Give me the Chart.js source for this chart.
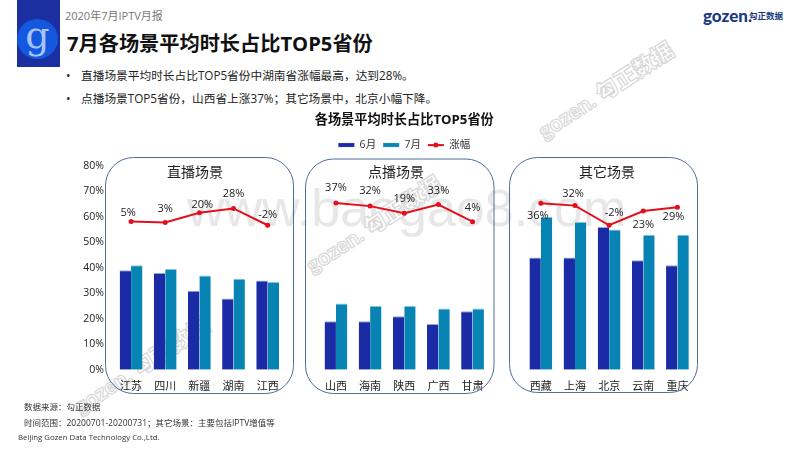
<!DOCTYPE html>
<html>
<head>
<meta charset="utf-8">
<script src="https://cdn.jsdelivr.net/npm/chart.js@4"></script>
<style>
  html, body { margin: 0; padding: 0; background: #fff; }
  body { width: 800px; height: 450px; position: relative; overflow: hidden;
         font-family: "Open Sans", "Noto Sans CJK SC", sans-serif; color: #222; }
  .t { position: absolute; white-space: nowrap; line-height: 1; }
  .wm { position: absolute; white-space: nowrap; line-height: 1; font-family: Lato, "Noto Sans CJK SC", sans-serif;
        font-weight: 900; font-size: 22px; color: #fff; -webkit-text-stroke: 1.2px #d8d8d8;
        transform: rotate(-33deg); transform-origin: left center; }
  #site { position: absolute; white-space: nowrap; line-height: 1; left: 187px; top: 178px;
          font: 52px "Liberation Sans", sans-serif; color: #e7e7e7; }
  #logo { position: absolute; left: 17px; top: 0; width: 43px; height: 67px; background: #1b2fa0; overflow: hidden; }
  #logo div { position: absolute; left: 0; top: 19px; width: 41px; height: 40px; border-radius: 50%; background: #1558e0;
              color: #a8c4ff; font: 38px/32px "DejaVu Serif", serif; text-align: center; }
  canvas { position: absolute; left: 0; top: 0; }
</style>
</head>
<body>
<div id="logo"><div>g</div></div>
<div class="t" style="left:65px;top:10px;font-size:11px;color:#777">2020年7月IPTV月报</div>
<div class="t" style="left:67px;top:33px;font-size:20.2px;font-weight:700;color:#111">7月各场景平均时长占比TOP5省份</div>
<div class="t" style="left:66px;top:70px;font-size:12px">•</div>
<div class="t" style="left:81px;top:70px;font-size:11.7px">直播场景平均时长占比TOP5省份中湖南省涨幅最高，达到28%。</div>
<div class="t" style="left:66px;top:93px;font-size:12px">•</div>
<div class="t" style="left:81px;top:93px;font-size:11.7px">点播场景TOP5省份，山西省上涨37%；其它场景中，北京小幅下降。</div>
<div class="t" style="left:703px;top:7px;font:900 17px/1 Lato,sans-serif;color:#1c3a80">gozen.</div>
<div class="t" style="left:749px;top:12px;font-size:8.5px;font-weight:700;color:#1c3a80">勾正数据</div>

<div id="site">www.baogao8.com</div>
<div class="wm" style="left:540px;top:122px">gozen. 勾正数据</div>
<div class="wm" style="left:308px;top:256px">gozen. 勾正数据</div>
<div class="wm" style="left:76px;top:397px">gozen. 勾正数据</div>

<canvas id="chart" width="800" height="450"></canvas>

<div class="t" style="left:24px;top:403px;font-size:8.5px;color:#333">数据来源：勾正数据</div>
<div class="t" style="left:24px;top:419px;font-size:8.5px;color:#333">时间范围：20200701-20200731；其它场景：主要包括IPTV增值等</div>
<div class="t" style="left:18px;top:434px;font-size:7.8px;color:#333">Beijing Gozen Data Technology Co.,Ltd.</div>

<script>
// 三组省份，中间用空类目隔开
var liveCities = ["江苏", "四川", "新疆", "湖南", "江西"];
var vodCities = ["山西", "海南", "陕西", "广西", "甘肃"];
var otherCities = ["西藏", "上海", "北京", "云南", "重庆"];

var liveJune = [39, 38, 31, 28, 35];
var liveJuly = [41, 39.5, 37, 35.7, 34.4];
var liveRise = [58.2, 57.8, 61.6, 63.3, 56.7];
var liveRiseText = ["5%", "3%", "20%", "28%", "-2%"];

var vodJune = [19, 19, 21, 18, 23];
var vodJuly = [26, 25, 25, 24, 24];
var vodRise = [65.4, 64.2, 61.4, 64.8, 58.1];
var vodRiseText = ["37%", "32%", "19%", "33%", "4%"];

var otherJune = [44, 44, 56, 43, 41];
var otherJuly = [60, 58, 55, 53, 53];
var otherRise = [65.3, 64.4, 56.7, 62.3, 63.8];
var otherRiseText = ["36%", "32%", "-2%", "23%", "29%"];

var seriesNames = ["6月", "7月", "涨幅"];
var sceneNames = ["直播场景", "点播场景", "其它场景"];

var FONT = '"Open Sans", "Noto Sans CJK SC", sans-serif';
var gap = [null];
var blank = [""];

var labels = liveCities.concat(blank, vodCities, blank, otherCities);
function join(a, b, c) { return a.concat(gap, b, gap, c); }
var riseText = liveRiseText.concat([""], vodRiseText, [""], otherRiseText);

// 数字标签相对折线点的偏移 [dx, dy]
var labelShift = [
  [-3, -9], [0, -14], [3, -8], [0, -15], [0, -10], null,
  [0, -15], [0, -15], [0, -14], [0, -14], [0, -14], null,
  [-3, 13], [-2, -12], [5, -12], [0, 14], [-4, 10]
];
// 圆角框
var panels = [
  { x0: 105.5, x1: 293.5, y0: 157.5, y1: 393.5, tx: 195 },
  { x0: 305.5, x1: 494, y0: 159, y1: 393.5, tx: 396 },
  { x0: 509.5, x1: 697.5, y0: 157.5, y1: 392.5, tx: 607 }
];

var decor = {
  id: "decor",
  beforeInit: function (chart) {
    // 图例下面多留一点空
    var fit = chart.legend.fit;
    chart.legend.fit = function () {
      fit.call(this);
      this.height += 5.5;
    };
  },
  beforeDatasetsDraw: function (chart) {
    var ctx = chart.ctx;
    ctx.save();
    panels.forEach(function (p, i) {
      ctx.beginPath();
      ctx.roundRect(p.x0, p.y0, p.x1 - p.x0, p.y1 - p.y0, 28);
      ctx.strokeStyle = "#4f6f99";
      ctx.lineWidth = 1;
      ctx.stroke();
      ctx.fillStyle = "#222";
      ctx.font = "14px " + FONT;
      ctx.textAlign = "center";
      ctx.textBaseline = "middle";
      ctx.fillText(sceneNames[i], p.tx, 173);
    });
    ctx.restore();
  },
  afterDraw: function (chart) {
    var ctx = chart.ctx;
    ctx.save();
    // 折线数字
    var pts = chart.getDatasetMeta(2).data;
    ctx.fillStyle = "#222";
    ctx.font = "11px " + FONT;
    ctx.textAlign = "center";
    ctx.textBaseline = "middle";
    pts.forEach(function (pt, i) {
      if (!labelShift[i]) return;
      ctx.fillText(riseText[i], pt.x + labelShift[i][0], pt.y + labelShift[i][1]);
    });
    // 图例里折线的线段和圆点
    var box = chart.legend.legendHitBoxes[2];
    var midY = box.top + box.height / 2;
    ctx.strokeStyle = "#e30f1c";
    ctx.fillStyle = "#e30f1c";
    ctx.lineWidth = 2;
    ctx.beginPath();
    ctx.moveTo(box.left, midY);
    ctx.lineTo(box.left + 16, midY);
    ctx.stroke();
    ctx.beginPath();
    ctx.arc(box.left + 8, midY, 2.5, 0, Math.PI * 2);
    ctx.fill();
    ctx.restore();
  }
};

new Chart(document.getElementById("chart"), {
  type: "bar",
  data: {
    labels: labels,
    datasets: [
      { label: seriesNames[0], data: join(liveJune, vodJune, otherJune), backgroundColor: "#1a2ba5", borderColor: "#8fa6dc", borderWidth: { top: 1 }, order: 2 },
      { label: seriesNames[1], data: join(liveJuly, vodJuly, otherJuly), backgroundColor: "#0884b4", borderColor: "#7cc6e2", borderWidth: { top: 1 }, order: 2 },
      { label: seriesNames[2], type: "line", data: join(liveRise, vodRise, otherRise), borderColor: "#e30f1c", backgroundColor: "#e30f1c",
        borderWidth: 2, pointRadius: 2.5, pointBackgroundColor: "#e30f1c", pointBorderWidth: 0, tension: 0, spanGaps: false, order: 1 }
    ]
  },
  plugins: [decor],
  options: {
    responsive: false,
    animation: false,
    maintainAspectRatio: false,
    layout: { padding: { left: 58, right: 105.5, top: 112, bottom: 55 } },
    datasets: { bar: { categoryPercentage: 0.667, barPercentage: 1 } },
    plugins: {
      tooltip: { enabled: false },
      title: {
        display: true,
        fullSize: false,
        text: "各场景平均时长占比TOP5省份",
        color: "#111",
        font: { family: FONT, size: 13.2, weight: "bold" },
        padding: { top: 0, bottom: 5 }
      },
      legend: {
        display: true,
        fullSize: false,
        position: "top",
        labels: {
          boxWidth: 16, boxHeight: 4, color: "#333", padding: 7, font: { family: FONT, size: 10.5 },
          sort: function (a, b) { return a.datasetIndex - b.datasetIndex; },
          generateLabels: function (chart) {
            var items = Chart.defaults.plugins.legend.labels.generateLabels(chart);
            items.forEach(function (it) {
              if (it.datasetIndex === 2) { it.fillStyle = "rgba(0,0,0,0)"; it.lineWidth = 0; }
            });
            return items;
          }
        }
      }
    },
    scales: {
      x: {
        offset: true,
        grid: { display: false },
        border: { display: false },
        ticks: { color: "#222", font: { family: FONT, size: 11 }, maxRotation: 0, minRotation: 0, autoSkip: false, padding: 2 }
      },
      y: {
        min: 0,
        max: 80,
        grid: { display: false },
        border: { display: false },
        afterFit: function (s) { s.width = 56; },
        ticks: { stepSize: 10, color: "#222", padding: 2, font: { family: FONT, size: 10.5 }, callback: function (v) { return v + "%"; } }
      }
    }
  }
});
</script>
</body>
</html>
